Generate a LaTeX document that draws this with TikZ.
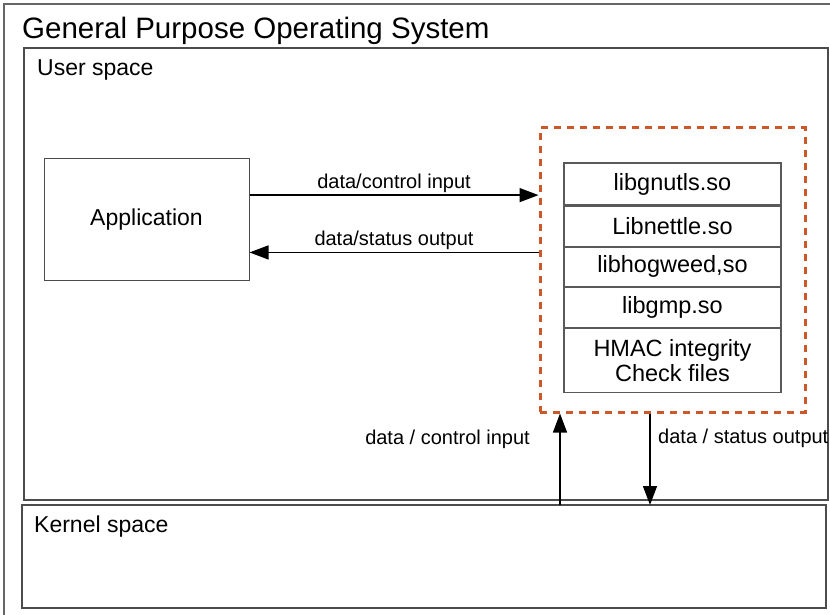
\documentclass[tikz,border=0pt]{standalone}
\usepackage{fontspec}
\setmainfont{Liberation Sans}
\usetikzlibrary{arrows.meta,positioning,calc}
\definecolor{rust}{RGB}{204,88,42}

\begin{document}
\begin{tikzpicture}[x=1pt,y=-1pt,
    box/.style={draw=black!70, thick, rectangle, inner sep=0pt},
    lib/.style={draw=black!65, line width=1.2pt, rectangle, minimum width=217pt, inner sep=0pt, font=\fontsize{23.5}{25}\selectfont, align=center},
    flow/.style={-{Triangle[length=19pt,width=14pt]}, line width=1.3pt},
    lbl/.style={font=\fontsize{20}{22}\selectfont, inner sep=0pt}]
  \useasboundingbox (0,0) rectangle (830,615);

  % outer frame and its title
  \draw [black!60, line width=1.3pt] (4,615) -- (4,4) -- (830,4);
  \node (title) [anchor=base west, inner sep=0pt, font=\fontsize{29.5}{32}\selectfont] at (22,39) {General Purpose Operating System};

  \node (user) [box, line width=1.3pt, minimum width=804pt, minimum height=452pt] at (426,274) {};
  \node (userlbl) [anchor=base west, inner sep=0pt, font=\fontsize{23}{26}\selectfont] at (37,76) {User space};

  \node (kernel) [box, line width=1.3pt, minimum width=804pt, minimum height=103pt] at (424,556.5) {};
  \node (kernellbl) [anchor=base west, inner sep=0pt, font=\fontsize{23}{26}\selectfont] at (34,532) {Kernel space};

  \node (app) [box, line width=1pt, minimum width=205pt, minimum height=121pt, font=\fontsize{23}{26}\selectfont] at (146.5,219.5) {\raisebox{-3pt}{Application}};

  \node (grp) [rectangle, draw=rust, line width=3pt, dash pattern=on 7pt off 6pt, minimum width=265pt, minimum height=284pt] at (672.5,270) {};

  % library stack
  \node (l1) [lib, minimum height=42pt] at (672.5,184) {\raisebox{-2pt}{libgnutls.so}};
  \node (l2) [lib, minimum height=40pt, below=0pt of l1] {Libnettle.so};
  \node (l3) [lib, minimum height=39pt, below=0pt of l2] {libhogweed,so};
  \node (l4) [lib, minimum height=40pt, below=0pt of l3] {libgmp.so};
  \node (l5) [lib, minimum height=64pt, below=0pt of l4] {\raisebox{5pt}{HMAC integrity}\\[-5pt]Check files};

  % flows between application and libraries
  \coordinate (ain) at ($(app.north east)!0.3!(app.south east)$);
  \coordinate (aout) at ($(app.north east)!0.77!(app.south east)$);
  \draw [flow] (ain) -- (ain -| grp.west) node [lbl, midway, above=2pt] {data/control input};
  \draw [flow] (aout -| grp.west) -- (aout) node [lbl, midway, above=2pt] {data/status output};

  % flows between kernel and libraries
  \coordinate (kin) at (560,505);
  \coordinate (kout) at (650,505);
  \draw [flow] (kin) -- (kin |- grp.south);
  \draw [flow] (kout |- grp.south) -- (kout);
  \node (kinlbl) [lbl, anchor=base east] at (530,444) {data / control input};
  \node (koutlbl) [lbl, anchor=base west] at (658,443) {data / status output};
\end{tikzpicture}
\end{document}
